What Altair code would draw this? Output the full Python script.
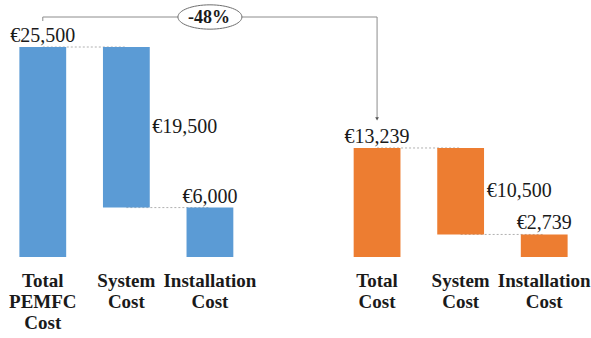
import altair as alt
import pandas as pd

# ---- data ----
slot_keys = ["a1", "a2", "a3", "gap", "b1", "b2", "b3"]
slot_labels = ["Total|PEMFC|Cost", "System|Cost", "Installation|Cost", "",
               "Total|Cost", "System|Cost", "Installation|Cost"]

bar_keys = ["a1", "a2", "a3", "b1", "b2", "b3"]
bar_start = [0, 6000, 0, 0, 2739, 0]
bar_end = [25500, 25500, 6000, 13239, 13239, 2739]
bar_value = [25500, 19500, 6000, 13239, 10500, 2739]
bar_group = ["PEMFC", "PEMFC", "PEMFC", "New", "New", "New"]
label_side = ["top", "right", "top", "top", "right", "top"]

group_names = ["PEMFC", "New"]
group_colors = ["#5B9BD5", "#ED7D31"]

bars = pd.DataFrame({
    "key": bar_keys, "start": bar_start, "end": bar_end,
    "value": bar_value, "group": bar_group, "side": label_side,
})
bars["label"] = ["€{:,}".format(v) for v in bar_value]
bars["mid"] = (bars["start"] + bars["end"]) / 2

cats = pd.DataFrame({"key": slot_keys, "text": slot_labels})
cats = cats[cats["text"] != ""]

# connectors between consecutive bars of the same group
conn_rows = []
for i in range(len(bar_keys) - 1):
    if bar_group[i] == bar_group[i + 1]:
        level = bar_end[i] if bar_start[i] == 0 else bar_start[i]
        conn_rows.append({"k1": bar_keys[i], "k2": bar_keys[i + 1], "level": level})
conns = pd.DataFrame(conn_rows)

first_total = bar_end[0]
second_total = bar_end[3]
pct = round((second_total - first_total) / first_total * 100)
pct_text = f"{pct}%"

FONT = "Liberation Serif"
GRAY = "#8c8c8c"

xscale = alt.Scale(domain=slot_keys, paddingInner=0.44, paddingOuter=0.22)
yscale = alt.Scale(domain=[0, first_total], nice=False, zero=True)

main_axis = alt.Axis(
    labels=False, ticks=False, grid=False, domainColor="#c8c8c8", title=None,
)

connector = alt.Chart(conns).mark_rule(
    color="#b0b0b0", strokeDash=[2, 2], strokeWidth=1
).encode(
    x=alt.X("k1:N", scale=xscale, axis=None, title=None),
    x2="k2:N",
    y=alt.Y("level:Q", scale=yscale, axis=None, title=None),
)

bar_layer = alt.Chart(bars).mark_bar().encode(
    x=alt.X("key:N", scale=xscale, axis=main_axis, title=None),
    y=alt.Y("start:Q", scale=yscale, axis=None, title=None),
    y2="end:Q",
    color=alt.Color("group:N", scale=alt.Scale(domain=group_names, range=group_colors), legend=None),
)

cat_labels = alt.Chart(cats).mark_text(
    font=FONT, fontSize=19, fontWeight="bold", color="#1a1a1a",
    baseline="top", align="center", lineBreak="|", lineHeight=21, dy=15,
).encode(
    x=alt.X("key:N", scale=xscale, axis=None, title=None),
    y=alt.Y(datum=0, type="quantitative", scale=yscale, axis=None, title=None),
    text="text:N",
)

top_labels = alt.Chart(bars).transform_filter("datum.side == 'top'").mark_text(
    font=FONT, fontSize=20, color="#1a1a1a", baseline="alphabetic", dy=-5
).encode(
    x=alt.X("key:N", scale=xscale, axis=None, title=None),
    y=alt.Y("end:Q", scale=yscale, axis=None, title=None),
    text="label:N",
)

right_labels = alt.Chart(bars).transform_filter("datum.side == 'right'").mark_text(
    font=FONT, fontSize=20, color="#1a1a1a", baseline="middle", align="left", dx=26
).encode(
    x=alt.X("key:N", scale=xscale, axis=None, title=None),
    y=alt.Y("mid:Q", scale=yscale, axis=None, title=None),
    text="label:N",
)

ann = pd.DataFrame({"k": [0]})
BR = -30  # bracket offset above first total

tick = alt.Chart(ann).mark_rule(color=GRAY, strokeWidth=1, yOffset=BR, y2Offset=BR + 4).encode(
    x=alt.X(datum=bar_keys[0], type="nominal", scale=xscale, axis=None, title=None),
    y=alt.Y(datum=first_total, type="quantitative", scale=yscale, axis=None, title=None),
    y2=alt.Y2(datum=first_total),
)

hline = alt.Chart(ann).mark_rule(color=GRAY, strokeWidth=1, yOffset=BR).encode(
    x=alt.X(datum=bar_keys[0], type="nominal", scale=xscale, axis=None, title=None),
    x2=alt.X2(datum=bar_keys[3]),
    y=alt.Y(datum=first_total, type="quantitative", scale=yscale, axis=None, title=None),
)

vline = alt.Chart(ann).mark_rule(color=GRAY, strokeWidth=1, yOffset=BR, y2Offset=-30).encode(
    x=alt.X(datum=bar_keys[3], type="nominal", scale=xscale, axis=None, title=None),
    y=alt.Y(datum=first_total, type="quantitative", scale=yscale, axis=None, title=None),
    y2=alt.Y2(datum=second_total),
)

arrow = alt.Chart(ann).mark_point(
    shape="triangle-down", filled=True, color="#555555", size=14, yOffset=-29, opacity=1
).encode(
    x=alt.X(datum=bar_keys[3], type="nominal", scale=xscale, axis=None, title=None),
    y=alt.Y(datum=second_total, type="quantitative", scale=yscale, axis=None, title=None),
)

ellipse = alt.Chart(ann).mark_point(
    shape="M -1 0 A 1 0.38 0 1 1 1 0 A 1 0.38 0 1 1 -1 0 Z",
    size=64 * 64, filled=True, fill="#ffffff", stroke="#6e6e6e", strokeWidth=1,
    yOffset=BR, opacity=1,
).encode(
    x=alt.X(datum=bar_keys[2], type="nominal", scale=xscale, axis=None, title=None),
    y=alt.Y(datum=first_total, type="quantitative", scale=yscale, axis=None, title=None),
)

pct_label = alt.Chart(ann).mark_text(
    font=FONT, fontSize=18, fontWeight="bold", color="#1a1a1a",
    baseline="middle", yOffset=BR + 1, dx=-1,
).encode(
    x=alt.X(datum=bar_keys[2], type="nominal", scale=xscale, axis=None, title=None),
    y=alt.Y(datum=first_total, type="quantitative", scale=yscale, axis=None, title=None),
    text=alt.value(pct_text),
)

chart = alt.layer(
    connector, bar_layer, cat_labels, top_labels, right_labels,
    tick, hline, vline, arrow, ellipse, pct_label,
).properties(
    width=585, height=210,
    padding={"left": 1, "top": 47, "right": 5, "bottom": 81},
    autosize=alt.AutoSizeParams(type="none"),
    background="#ffffff",
).configure_view(stroke=None)

chart.save("out.html", embed_options={"renderer": "svg", "actions": False})
